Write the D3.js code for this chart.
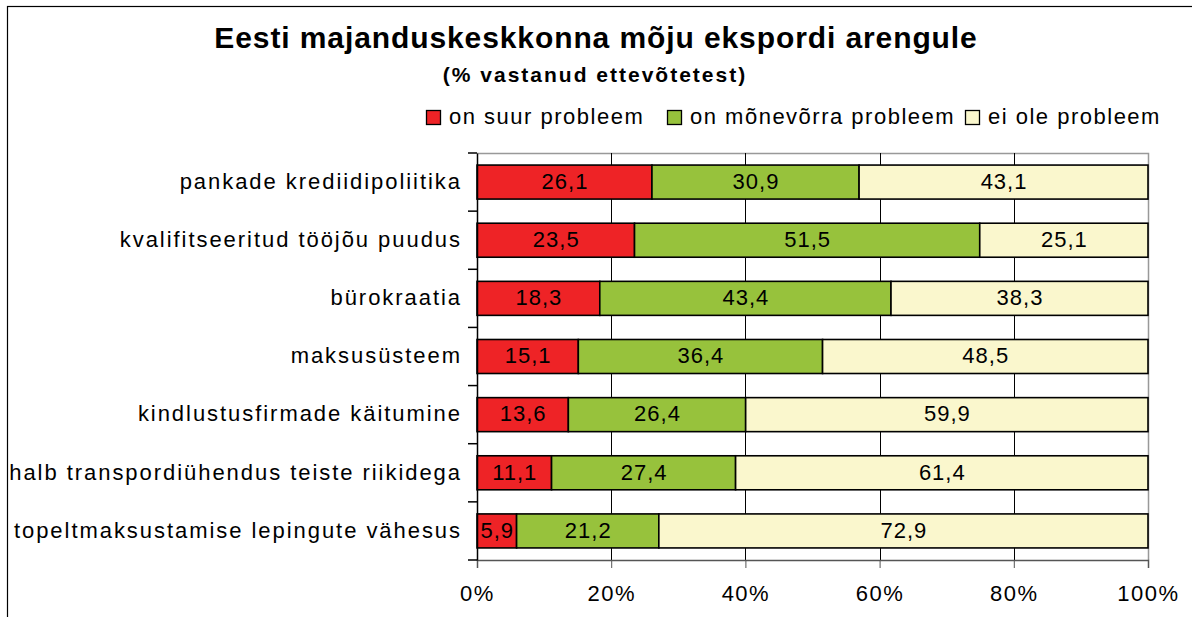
<!DOCTYPE html>
<html>
<head>
<meta charset="utf-8">
<script src="https://cdn.jsdelivr.net/npm/d3@7"></script>
<style>
  body { margin: 0; background: #fff; }
  svg { display: block; font-family: "Liberation Sans", Arial, sans-serif; }
</style>
</head>
<body>
<svg id="chart" width="1192" height="617"></svg>
<script>
const categories = [
  'pankade krediidipoliitika',
  'kvalifitseeritud tööjõu puudus',
  'bürokraatia',
  'maksusüsteem',
  'kindlustusfirmade käitumine',
  'halb transpordiühendus teiste riikidega',
  'topeltmaksustamise lepingute vähesus'
];
const seriesNames = ['on suur probleem', 'on mõnevõrra probleem', 'ei ole probleem'];
const bigProblem = [26.1, 23.5, 18.3, 15.1, 13.6, 11.1, 5.9];
const someProblem = [30.9, 51.5, 43.4, 36.4, 26.4, 27.4, 21.2];
const noProblem = [43.1, 25.1, 38.3, 48.5, 59.9, 61.4, 72.9];
const tickValues = [0, 20, 40, 60, 80, 100];
const colors = ['#ee2326', '#97c23c', '#faf7cd'];

const svg = d3.select('#chart');
const FONT = '"Liberation Sans", Arial, sans-serif';

// outer frame
svg.append('rect')
  .attr('x', 7.5).attr('y', 6.5)
  .attr('width', 1200).attr('height', 700)
  .attr('fill', 'none').attr('stroke', '#000').attr('stroke-width', 1.2);

const margin = { left: 477, right: 1148, top: 153, bottom: 560 };

const x = d3.scaleLinear().domain([0, 100]).range([margin.left, margin.right]);
const y = d3.scaleBand().domain(categories).range([margin.top, margin.bottom]).paddingInner(0.415).paddingOuter(0.2075);

const rows = categories.map((c, i) => {
  const vals = [bigProblem[i], someProblem[i], noProblem[i]];
  const total = d3.sum(vals);
  let acc = 0;
  return vals.map((v, k) => {
    const d = { cat: c, k, v, x0: acc / total * 100 };
    acc += v;
    d.x1 = acc / total * 100;
    return d;
  });
});

// plot top/right border
svg.append('path')
  .attr('d', `M${margin.left},${margin.top + 0.5}H${margin.right + 0.5}V${margin.bottom}`)
  .attr('fill', 'none').attr('stroke', '#999').attr('stroke-width', 1.5);

// gridlines
svg.append('g')
  .selectAll('line')
  .data(tickValues.slice(1, -1))
  .join('line')
  .attr('x1', d => Math.round(x(d)) + 0.5).attr('x2', d => Math.round(x(d)) + 0.5)
  .attr('y1', margin.top).attr('y2', margin.bottom)
  .attr('stroke', '#000').attr('stroke-width', 1);

// bars
const bars = svg.append('g');
rows.forEach(row => {
  bars.selectAll(null)
    .data(row)
    .join('rect')
    .attr('x', d => x(d.x0))
    .attr('y', d => y(d.cat))
    .attr('width', d => x(d.x1) - x(d.x0))
    .attr('height', y.bandwidth())
    .attr('fill', d => colors[d.k])
    .attr('stroke', '#000').attr('stroke-width', 1.6);

  bars.selectAll(null)
    .data(row)
    .join('text')
    .attr('x', d => (x(d.x0) + x(d.x1)) / 2 + 0.5)
    .attr('y', d => y(d.cat) + y.bandwidth() / 2)
    .attr('dy', '0.31em')
    .attr('text-anchor', 'middle')
    .attr('font-size', 22)
    .attr('letter-spacing', 1)
    .text(d => d.v.toFixed(1).replace('.', ','));
});

// bottom axis
const xAxis = svg.append('g')
  .attr('transform', `translate(0,${margin.bottom})`)
  .call(d3.axisBottom(x).tickValues(tickValues).tickFormat(d => d + '%').tickSize(8).tickPadding(17));
xAxis.select('.domain').attr('stroke', '#555').attr('stroke-width', 1.5);
xAxis.selectAll('.tick line').attr('stroke', '#555');
xAxis.selectAll('text').attr('font-size', 22).attr('fill', '#000')
  .attr('letter-spacing', 1.5).attr('font-family', FONT);

// left axis
const yAxis = svg.append('g')
  .attr('transform', `translate(${margin.left},0)`)
  .call(d3.axisLeft(y).tickSize(0).tickPadding(15));
yAxis.select('.domain').attr('stroke', '#000').attr('stroke-width', 1.5);
yAxis.selectAll('text').attr('font-size', 22).attr('fill', '#000')
  .attr('dy', '0.31em').attr('letter-spacing', 1.95).attr('font-family', FONT);
// category boundary ticks
const bounds = categories.map(c => y(c) - y.step() * y.paddingInner() / 2).concat([margin.bottom]);
yAxis.selectAll('line.sep')
  .data(bounds)
  .join('line')
  .attr('class', 'sep')
  .attr('x1', -9).attr('x2', 0)
  .attr('y1', d => d).attr('y2', d => d)
  .attr('stroke', '#000').attr('stroke-width', 1.5);

// title
svg.append('text')
  .attr('x', 596).attr('y', 48)
  .attr('text-anchor', 'middle')
  .attr('font-size', 30).attr('font-weight', 'bold')
  .attr('letter-spacing', 0.9)
  .text('Eesti majanduskeskkonna mõju ekspordi arengule');
svg.append('text')
  .attr('x', 595).attr('y', 82)
  .attr('text-anchor', 'middle')
  .attr('font-size', 21).attr('font-weight', 'bold')
  .attr('letter-spacing', 2)
  .text('(% vastanud ettevõtetest)');

// legend
const legendX = [426, 667, 965];
const legend = svg.append('g');
seriesNames.forEach((name, i) => {
  legend.append('rect')
    .attr('x', legendX[i] + 0.5).attr('y', 110.5)
    .attr('width', 14).attr('height', 14)
    .attr('fill', colors[i]).attr('stroke', '#000').attr('stroke-width', 1.3);
  legend.append('text')
    .attr('x', legendX[i] + 23).attr('y', 123.5)
    .attr('font-size', 22)
    .attr('letter-spacing', 1.5)
    .text(name);
});
</script>
</body>
</html>
